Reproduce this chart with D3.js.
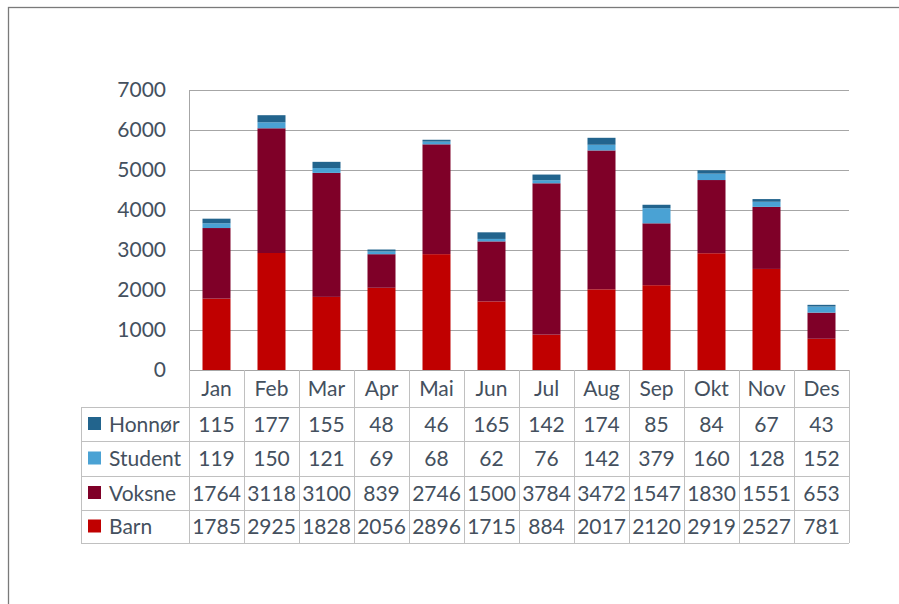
<!DOCTYPE html>
<html><head><meta charset="utf-8">
<script src="https://cdn.jsdelivr.net/npm/d3@7"></script>
<style>body{margin:0;background:#fff}svg{display:block}</style>
</head><body>
<script>
const months = ["Jan","Feb","Mar","Apr","Mai","Jun","Jul","Aug","Sep","Okt","Nov","Des"];
const honnor = [115,177,155,48,46,165,142,174,85,84,67,43];
const student = [119,150,121,69,68,62,76,142,379,160,128,152];
const voksne = [1764,3118,3100,839,2746,1500,3784,3472,1547,1830,1551,653];
const barn = [1785,2925,1828,2056,2896,1715,884,2017,2120,2919,2527,781];
const yTicks = [0,1000,2000,3000,4000,5000,6000,7000];
const seriesNames = ["Barn","Voksne","Student","Honnør"];
const seriesValues = [barn, voksne, student, honnor];
const colors = {"Barn":"#c00000","Voksne":"#7f0028","Student":"#4aa2d4","Honnør":"#22648d"};
const tableOrder = ["Honnør","Student","Voksne","Barn"];

(function(){
const W=899,H=604;
const svg=d3.select("body").append("svg").attr("width",W).attr("height",H);
const font="Lato, 'Open Sans', sans-serif";
const txt="#44505e";

svg.append("rect").attr("x",8.5).attr("y",7.5).attr("width",W+10).attr("height",H+10)
  .attr("fill","none").attr("stroke","#7a7a7a").attr("stroke-width",1.3);

const pl=189,pr=849,pt=90,pb=370;
const x=d3.scaleBand().domain(months).range([pl,pr]).padding(0);
const y=d3.scaleLinear().domain([0,7000]).range([pb,pt]);

svg.append("g").selectAll("line").data(yTicks).join("line")
  .attr("x1",pl).attr("x2",pr).attr("y1",d=>Math.round(y(d))+0.5).attr("y2",d=>Math.round(y(d))+0.5)
  .attr("stroke","#a6a6a6").attr("stroke-width",1);

const yAxis=d3.axisLeft(y).tickValues(yTicks).tickSize(0).tickPadding(23).tickFormat(d3.format("d"));
const ga=svg.append("g").attr("transform",`translate(${pl},0)`).call(yAxis);
ga.select(".domain").remove();
ga.selectAll("text").attr("font-family",font).attr("font-size",21).attr("fill",txt);

const rows=months.map((m,i)=>{const o={month:m};seriesNames.forEach((s,j)=>o[s]=seriesValues[j][i]);return o;});
const stack=d3.stack().keys(seriesNames)(rows);
const bw=28;
svg.append("g").selectAll("g").data(stack).join("g").attr("fill",d=>colors[d.key])
  .selectAll("rect").data(d=>d).join("rect")
  .attr("x",d=>x(d.data.month)+x.bandwidth()/2-bw/2).attr("width",bw)
  .attr("y",d=>y(d[1])).attr("height",d=>y(d[0])-y(d[1]));

const rowH=[370,407,441,476,510,543];
const tl=81;
const g=svg.append("g").attr("stroke","#c0c0c0").attr("stroke-width",1).attr("shape-rendering","crispEdges");
months.forEach(m=>g.append("line").attr("x1",x(m)).attr("x2",x(m)).attr("y1",rowH[0]).attr("y2",rowH[5]));
g.append("line").attr("x1",pr).attr("x2",pr).attr("y1",rowH[0]).attr("y2",rowH[5]);
g.append("line").attr("x1",tl).attr("x2",tl).attr("y1",rowH[1]).attr("y2",rowH[5]);
for(let i=1;i<rowH.length;i++) g.append("line").attr("x1",tl).attr("x2",pr).attr("y1",rowH[i]).attr("y2",rowH[i]);
svg.append("line").attr("x1",pl+0.5).attr("x2",pl+0.5).attr("y1",pt).attr("y2",rowH[0]).attr("stroke","#a6a6a6");

svg.append("g").selectAll("text").data(months).join("text")
  .attr("x",d=>x(d)+x.bandwidth()/2).attr("y",(rowH[0]+rowH[1])/2).attr("dy","0.36em")
  .attr("text-anchor","middle").attr("font-family",font).attr("font-size",21).attr("fill",txt).text(d=>d);

const dataBy={"Barn":barn,"Voksne":voksne,"Student":student,"Honnør":honnor};
tableOrder.forEach((s,r)=>{
  const cy=(rowH[r+1]+rowH[r+2])/2;
  svg.append("rect").attr("x",88).attr("y",cy-7).attr("width",13).attr("height",13).attr("fill",colors[s]);
  svg.append("text").attr("x",109).attr("y",cy).attr("dy","0.36em").attr("font-family",font).attr("font-size",21).attr("fill",txt).text(s);
  svg.append("g").selectAll("text").data(dataBy[s]).join("text")
    .attr("x",(d,i)=>x(months[i])+x.bandwidth()/2).attr("y",cy).attr("dy","0.36em")
    .attr("text-anchor","middle").attr("font-family",font).attr("font-size",21).attr("fill",txt).text(d=>d);
});
})();
</script>
</body></html>
